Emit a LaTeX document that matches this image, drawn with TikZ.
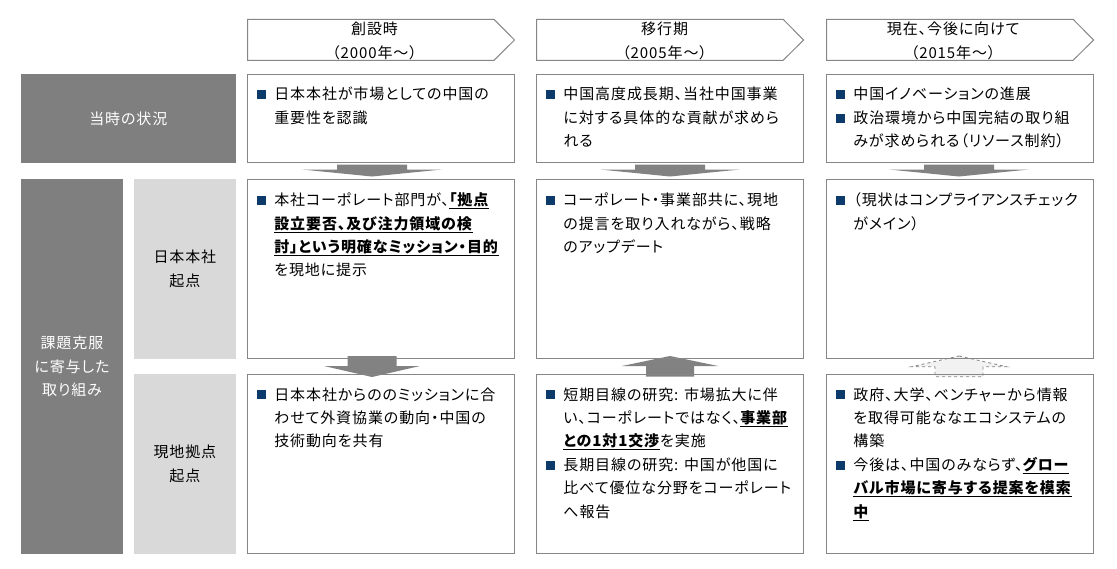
\documentclass[tikz,border=0pt]{standalone}
\usepackage{fontspec}
\setmainfont{Noto Sans CJK JP}[RawFeature=+palt, LetterSpace=6]
\usetikzlibrary{calc}
\definecolor{darkg}{HTML}{7F7F7F}
\definecolor{lightg}{HTML}{D9D9D9}
\definecolor{edgeg}{HTML}{868686}
\definecolor{navy}{HTML}{0B3A6B}
\definecolor{arrg}{HTML}{828282}
\definecolor{paleg}{HTML}{F2F2F2}
\newcommand\bx{\makebox[17.8pt][l]{\textcolor{navy}{\rule[0.6pt]{9pt}{9pt}}}}
\newcommand\ind{\hspace*{17.8pt}}
\newcommand\hl[1]{\underline{\textbf{#1}}}
\newcommand\cellt[1]{\parbox[t]{262pt}{\fontsize{15}{23.4}\selectfont #1}}
\newcommand\darr[6]{\fill[arrg] (#1-#5,#2) -- (#1+#5,#2) -- (#1+#5,#3) -- (#1+#6,#3) -- (#1,#4) -- (#1-#6,#3) -- (#1-#5,#3) -- cycle;}
\newcommand\uarrpath[6]{(#1,#4) -- (#1+#6,#3) -- (#1+#5,#3) -- (#1+#5,#2) -- (#1-#5,#2) -- (#1-#5,#3) -- (#1-#6,#3) -- cycle}
\tikzset{
  every node/.style={inner sep=0pt, outer sep=0pt},
  cell/.style={draw=edgeg, line width=1pt, anchor=north west, minimum width=267pt},
  hdr/.style={draw=edgeg, line width=1pt, fill=white},
  darkbox/.style={fill=darkg, anchor=north west},
  lightbox/.style={fill=lightg, anchor=north west},
  txt/.style={anchor=base west},
  ctxt/.style={align=center, font=\fontsize{15}{23.4}\selectfont},
}
\begin{document}
\begin{tikzpicture}[x=1pt,y=-1pt]
\useasboundingbox (0,0) rectangle (1117,568);
% header chevrons
\draw[hdr] (247.5,19.3) -- (494,19.3) -- (514.5,40) -- (494,60.3) -- (247.5,60.3) -- cycle;
\draw[hdr] (536.6,19.3) -- (783.1,19.3) -- (803.6,40) -- (783.1,60.3) -- (536.6,60.3) -- cycle;
\draw[hdr] (826.6,19.3) -- (1073.1,19.3) -- (1093.6,40) -- (1073.1,60.3) -- (826.6,60.3) -- cycle;
\node[ctxt] (h1) at (374.5,41) {創設時\\（2000年～）};
\node[ctxt] (h2) at (664.6,41) {移行期\\（2005年～）};
\node[ctxt] (h3) at (953.2,41) {現在、今後に向けて\\（2015年～）};
% left labels
\node[darkbox, minimum width=214.7pt, minimum height=88.7pt] (sit) at (21,74) {};
\node[ctxt, text=white] (sitt) at (sit.center) {当時の状況};
\node[darkbox, minimum width=101.9pt, minimum height=374.4pt] (eff) at (21,179.3) {};
\node[ctxt, text=white] (efft) at (eff.center) {課題克服\\に寄与した\\取り組み};
\node[lightbox, minimum width=101.7pt, minimum height=179.2pt] (hq) at (134,179.3) {};
\node[ctxt] (hqt) at (hq.center) {日本本社\\起点};
\node[lightbox, minimum width=101.7pt, minimum height=179.4pt] (loc) at (134,374.3) {};
\node[ctxt] (loct) at (loc.center) {現地拠点\\起点};
% arrows
\darr{372}{164.5}{169.5}{176.5}{35}{70}
\darr{670}{164.5}{169.5}{176.5}{35}{70}
\darr{959}{164.5}{169.5}{176.5}{35}{70}
\darr{372}{356}{366}{377}{24.5}{48}
\fill[arrg] \uarrpath{670}{376.7}{366}{356}{24}{48};
\filldraw[fill=paleg, draw=edgeg, dashed, line width=0.8pt] \uarrpath{959}{376.7}{366.7}{356}{24}{47.5};
% cells
\node[cell, minimum height=88.7pt] (r1c1) at (247.5,74) {};
\node[cell, minimum height=88.7pt] (r1c2) at (536.6,74) {};
\node[cell, minimum height=88.7pt] (r1c3) at (826.6,74) {};
\node[cell, minimum height=179.2pt] (r2c1) at (247.5,179.3) {};
\node[cell, minimum height=179.2pt] (r2c2) at (536.6,179.3) {};
\node[cell, minimum height=179.2pt] (r2c3) at (826.6,179.3) {};
\node[cell, minimum height=179.4pt] (r3c1) at (247.5,374.3) {};
\node[cell, minimum height=179.4pt] (r3c2) at (536.6,374.3) {};
\node[cell, minimum height=179.4pt] (r3c3) at (826.6,374.3) {};
% texts
\node[txt] (t11) at ($(r1c1.north west)+(9,25.7)$) {\cellt{\bx 日本本社が市場としての中国の\\\ind 重要性を認識}};
\node[txt] (t12) at ($(r1c2.north west)+(9,25.7)$) {\cellt{\bx 中国高度成長期、当社中国事業\\\ind に対する具体的な貢献が求めら\\\ind れる}};
\node[txt] (t13) at ($(r1c3.north west)+(9,25.7)$) {\cellt{\bx 中国イノベーションの進展\\\bx 政治環境から中国完結の取り組\\\ind みが求められる（リソース制約）}};
\node[txt] (t21) at ($(r2c1.north west)+(9,26.4)$) {\cellt{\bx 本社コーポレート部門が、\hl{「拠点}\\\ind\hl{設立要否、及び注力領域の検}\\\ind\hl{討」という明確なミッション・目的}\\\ind を現地に提示}};
\node[txt] (t22) at ($(r2c2.north west)+(9,26.4)$) {\cellt{\bx コーポレート・事業部共に、現地\\\ind の提言を取り入れながら、戦略\\\ind のアップデート}};
\node[txt] (t23) at ($(r2c3.north west)+(9,26.4)$) {\cellt{\bx （現状はコンプライアンスチェック\\\ind がメイン）}};
\node[txt] (t31) at ($(r3c1.north west)+(9,25.7)$) {\cellt{\bx 日本本社からののミッションに合\\\ind わせて外資協業の動向・中国の\\\ind 技術動向を共有}};
\node[txt] (t32) at ($(r3c2.north west)+(9,25.7)$) {\cellt{\bx 短期目線の研究: 市場拡大に伴\\\ind い、コーポレートではなく、\hl{事業部}\\\ind\hl{との1対1交渉}を実施\\\bx 長期目線の研究: 中国が他国に\\\ind 比べて優位な分野をコーポレート\\\ind へ報告}};
\node[txt] (t33) at ($(r3c3.north west)+(9,25.7)$) {\cellt{\bx 政府、大学、ベンチャーから情報\\\ind を取得可能ななエコシステムの\\\ind 構築\\\bx 今後は、中国のみならず、\hl{グロー}\\\ind\hl{バル市場に寄与する提案を模索}\\\ind\hl{中}}};
\end{tikzpicture}
\end{document}
